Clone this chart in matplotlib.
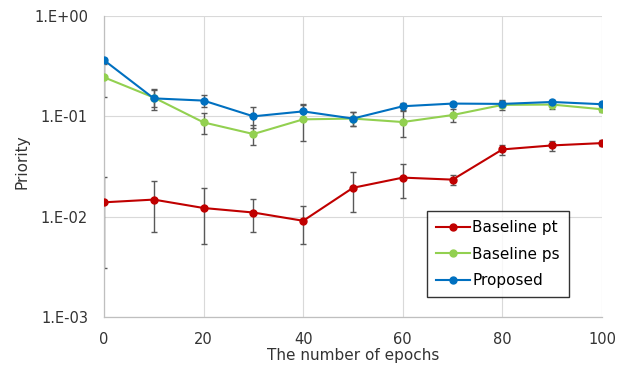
import matplotlib
matplotlib.use('Agg')
import matplotlib.pyplot as plt
import matplotlib.ticker as ticker
import numpy as np

epochs = [0, 10, 20, 30, 40, 50, 60, 70, 80, 90, 100]

baseline_pt = [0.0139, 0.0148, 0.0122, 0.0110, 0.0091, 0.0194, 0.0245, 0.0234, 0.0468, 0.0513, 0.0541]
baseline_pt_err = [0.0108, 0.0077, 0.0069, 0.0039, 0.0037, 0.0083, 0.0090, 0.0026, 0.0053, 0.0060, 0.0040]

baseline_ps = [0.245, 0.154, 0.087, 0.0666, 0.0933, 0.095, 0.0877, 0.103, 0.130, 0.131, 0.1175]
baseline_ps_err = [0.090, 0.030, 0.021, 0.015, 0.037, 0.015, 0.026, 0.015, 0.015, 0.012, 0.006]

proposed = [0.363, 0.151, 0.1435, 0.100, 0.112, 0.095, 0.126, 0.134, 0.133, 0.139, 0.132]
proposed_err = [0.02, 0.035, 0.020, 0.024, 0.020, 0.015, 0.010, 0.006, 0.008, 0.006, 0.006]

series = [
    ('Baseline pt', baseline_pt, baseline_pt_err, '#C00000'),
    ('Baseline ps', baseline_ps, baseline_ps_err, '#92D050'),
    ('Proposed', proposed, proposed_err, '#0070C0'),
]

plt.rcParams['font.family'] = ['DejaVu Sans']

fig = plt.figure(figsize=(6.3, 3.7), dpi=100)
ax = fig.add_axes([0.165, 0.1432, 0.7906, 0.8136])

for name, vals, errs, color in series:
    ax.errorbar(epochs, vals, yerr=errs, fmt='none', ecolor='#595959',
                elinewidth=1.0, capsize=2.2, capthick=1.0, zorder=2)
for name, vals, errs, color in series:
    ax.plot(epochs, vals, color=color, linewidth=1.5, marker='o',
            markersize=5, label=name, zorder=3)

ax.set_yscale('log')
ax.set_xlim(0, 100)
ax.set_ylim(1e-3, 1)
ax.xaxis.set_major_locator(ticker.MultipleLocator(20))
ax.yaxis.set_major_locator(ticker.LogLocator(base=10, numticks=10))
ax.yaxis.set_minor_locator(ticker.NullLocator())
ax.yaxis.set_major_formatter(ticker.FuncFormatter(
    lambda v, p: '1.E%+03d' % int(round(np.log10(v)))))

ax.grid(True, color='#D9D9D9', linewidth=0.8, zorder=0)
ax.set_axisbelow(True)
for side in ['top', 'right']:
    ax.spines[side].set_visible(False)
for side in ['left', 'bottom']:
    ax.spines[side].set_color('#BFBFBF')
    ax.spines[side].set_linewidth(0.9)
ax.tick_params(axis='both', which='both', length=0, labelsize=10.5,
               labelcolor='#333333')
ax.tick_params(axis='y', pad=11.5)
ax.tick_params(axis='x', pad=11)

ax.set_xlabel('The number of epochs', fontsize=11, color='#333333', labelpad=0.5)
ax.set_ylabel('Priority', fontsize=11, color='#333333')
ax.yaxis.set_label_coords(-0.149, 0.515)

leg = ax.legend(loc='lower left', bbox_to_anchor=(0.649, 0.066), fontsize=11,
                frameon=True, fancybox=False, edgecolor='black',
                handlelength=2.2, handletextpad=0.15, borderpad=0.6,
                labelspacing=0.75, borderaxespad=0)
leg.get_frame().set_linewidth(1.0)

fig.savefig('out.png', dpi=100)
